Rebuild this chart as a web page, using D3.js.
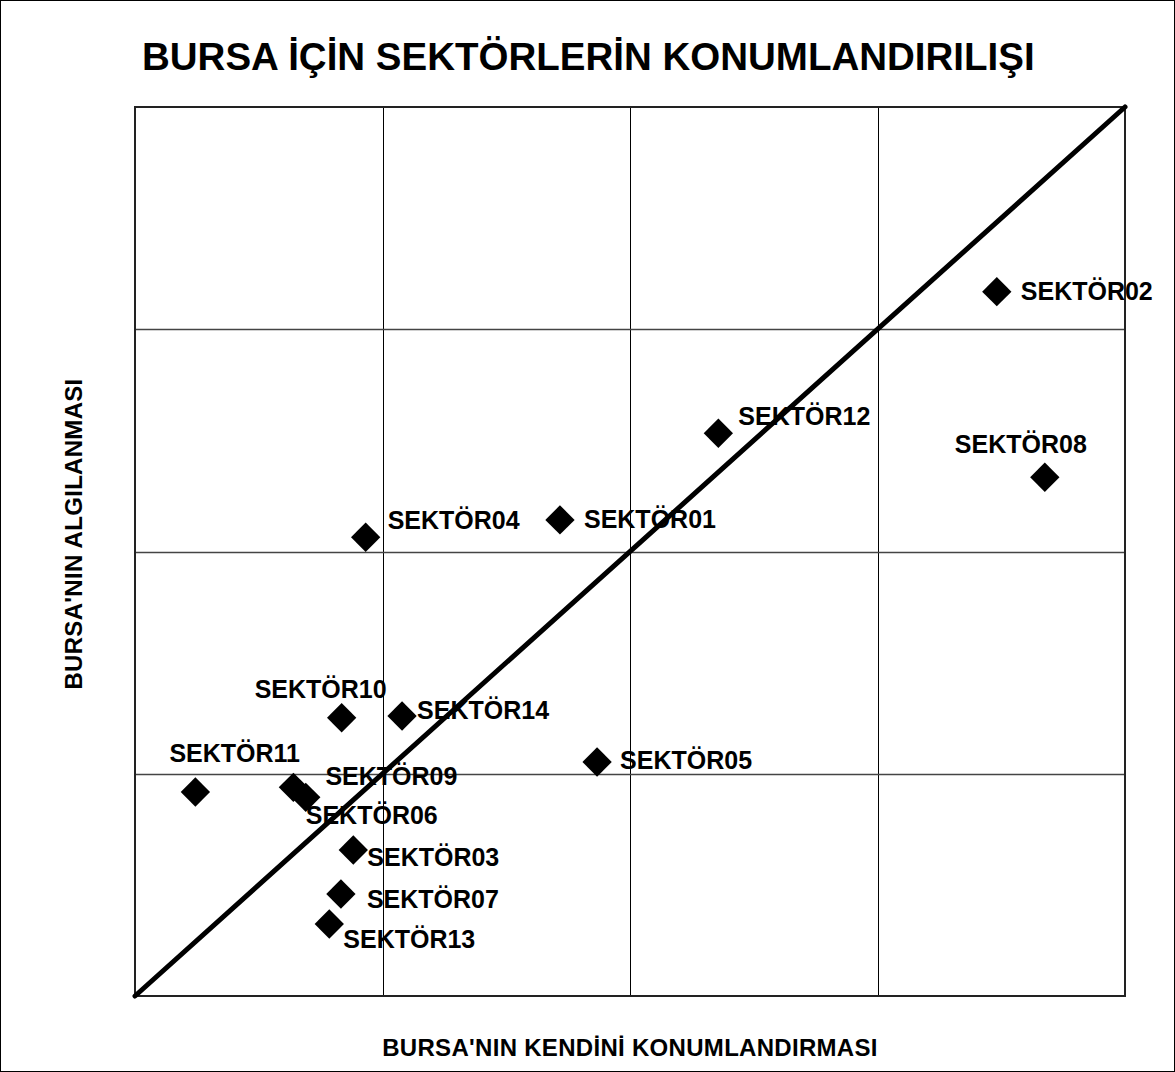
<!DOCTYPE html>
<html><head><meta charset="utf-8">
<script src="https://cdn.jsdelivr.net/npm/d3@7/dist/d3.min.js"></script>
<style>body{margin:0;background:#fff}svg{display:block}text{font-family:"Liberation Sans",Arial,sans-serif;font-weight:bold;fill:#000}</style>
</head><body><svg id="c" width="1175" height="1072"></svg>
<script>
const sectors = ["SEKTÖR01","SEKTÖR02","SEKTÖR03","SEKTÖR04","SEKTÖR05","SEKTÖR06","SEKTÖR07","SEKTÖR08","SEKTÖR09","SEKTÖR10","SEKTÖR11","SEKTÖR12","SEKTÖR13","SEKTÖR14"];
const selfPositioning = [2.717,4.482,1.882,1.932,2.867,1.690,1.832,4.676,1.640,1.835,1.244,3.357,1.785,2.079];
const perception      = [3.142,4.169,1.657,3.064,2.053,1.894,1.459,3.334,1.939,2.252,1.918,3.532,1.324,2.260];
const gridTicks = [2,3,4];
const axisDomain = [1,5];
const title = "BURSA İÇİN SEKTÖRLERİN KONUMLANDIRILIŞI";
const xTitle = "BURSA'NIN KENDİNİ KONUMLANDIRMASI";
const yTitle = "BURSA'NIN ALGILANMASI";
// label placement (dx, baseline dy) relative to marker
const labelOffsets = [[24,8],[24,8],[14,16],[22,-8],[23,7],[0,27],[26,14],[-90,-24],[32,-2],[-87,-20],[-26,-30],[20,-8],[14,24],[15,3]];

const svg = d3.select("#c");
svg.append("rect").attr("x",0.5).attr("y",0.5).attr("width",1174).attr("height",1071).attr("fill","#fff").attr("stroke","#000").attr("stroke-width",1);

const L=135,R=1125,T=107,B=996;
const x = d3.scaleLinear().domain(axisDomain).range([L,R]);
const y = d3.scaleLinear().domain(axisDomain).range([B,T]);

const g = svg.append("g");
g.selectAll("line.vx").data(gridTicks).join("line").attr("class","vx").attr("x1",d=>Math.round(x(d))+0.5).attr("x2",d=>Math.round(x(d))+0.5).attr("y1",T).attr("y2",B).attr("stroke","#000").attr("stroke-width",1);
g.selectAll("line.hy").data(gridTicks).join("line").attr("class","hy").attr("y1",d=>Math.round(y(d))+0.5).attr("y2",d=>Math.round(y(d))+0.5).attr("x1",L).attr("x2",R).attr("stroke","#444").attr("stroke-width",1.3);
g.append("rect").attr("x",L).attr("y",T).attr("width",R-L).attr("height",B-T).attr("fill","none").attr("stroke","#222").attr("stroke-width",2);

// diagonal
g.append("line").attr("x1",x(axisDomain[0])).attr("y1",y(axisDomain[0])).attr("x2",x(axisDomain[1])).attr("y2",y(axisDomain[1])).attr("stroke","#000").attr("stroke-width",5).attr("stroke-linecap","round");

const data = sectors.map((s,i)=>({s, x:selfPositioning[i], y:perception[i], o:labelOffsets[i]}));
const sym = d3.symbol().type(d3.symbolSquare).size(430);
g.selectAll("path.pt").data(data).join("path").attr("class","pt").attr("d",sym).attr("fill","#000")
  .attr("transform",d=>`translate(${x(d.x)},${y(d.y)}) rotate(45)`);
g.selectAll("text.lb").data(data).join("text").attr("class","lb").attr("x",d=>x(d.x)+d.o[0]).attr("y",d=>y(d.y)+d.o[1])
  .attr("font-size",25).text(d=>d.s);

svg.append("text").attr("x",142).attr("y",70).attr("font-size",38.5).text(title);
svg.append("text").attr("x",630).attr("y",1056).attr("text-anchor","middle").attr("font-size",24).attr("letter-spacing","0.3px").text(xTitle);
svg.append("text").attr("transform","translate(82,534) rotate(-90)").attr("text-anchor","middle").attr("font-size",24).attr("letter-spacing","0.3px").text(yTitle);
</script></body></html>
